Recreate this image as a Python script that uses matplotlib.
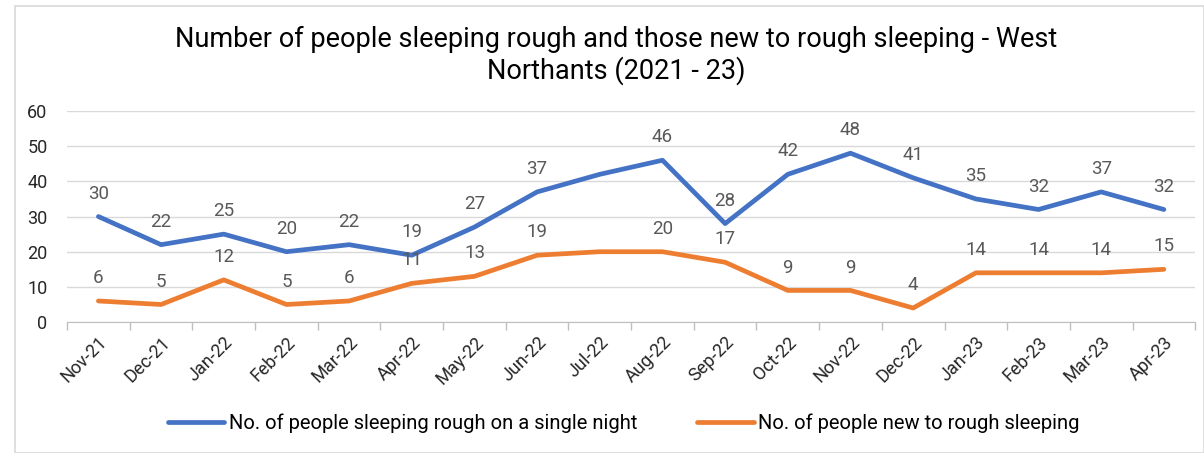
import matplotlib
matplotlib.use("Agg")
import matplotlib.pyplot as plt
from matplotlib.patches import Rectangle
import numpy as np

months = ["Nov-21", "Dec-21", "Jan-22", "Feb-22", "Mar-22", "Apr-22", "May-22",
          "Jun-22", "Jul-22", "Aug-22", "Sep-22", "Oct-22", "Nov-22", "Dec-22",
          "Jan-23", "Feb-23", "Mar-23", "Apr-23"]
rough_single_night = [30, 22, 25, 20, 22, 19, 27, 37, 42, 46, 28, 42, 48, 41, 35, 32, 37, 32]
new_to_rough = [6, 5, 12, 5, 6, 11, 13, 19, 20, 20, 17, 9, 9, 4, 14, 14, 14, 15]
unlabelled = {"Jul-22"}

plt.rcParams['font.family'] = ['Roboto', 'DejaVu Sans']

fig = plt.figure(figsize=(12.04, 4.53), dpi=100)
fig.patches.append(Rectangle((15 / 1204, 0), 1 - 15 / 1204, 1 - 6 / 453,
                             transform=fig.transFigure, fill=False,
                             edgecolor="#D9D9D9", linewidth=1.2))

ax = fig.add_axes([0.0557, 0.289, 0.937, 0.466])
x = np.arange(len(months))
blue, orange = "#4472C4", "#ED7D31"
ax.plot(x, rough_single_night, color=blue, linewidth=3.4,
        solid_capstyle="round", solid_joinstyle="round",
        label="No. of people sleeping rough on a single night")
ax.plot(x, new_to_rough, color=orange, linewidth=3.4,
        solid_capstyle="round", solid_joinstyle="round",
        label="No. of people new to rough sleeping")

for xi, m, a, b in zip(x, months, rough_single_night, new_to_rough):
    if m in unlabelled:
        continue
    ax.annotate(str(a), (xi, a), xytext=(0, 10), textcoords="offset points",
                ha="center", va="bottom", fontsize=13.5, color="#595959")
    ax.annotate(str(b), (xi, b), xytext=(0, 10), textcoords="offset points",
                ha="center", va="bottom", fontsize=13.5, color="#595959")

ax.set_xlim(-0.5, len(months) - 0.5)
ax.set_ylim(0, 60)
ax.set_yticks(range(0, 61, 10))
ax.set_xticks(x)
ax.set_xticklabels(months, rotation=45, ha="right", rotation_mode="anchor",
                   fontsize=13, color="#262626")
ax.tick_params(axis="x", which="major", length=0, pad=8)
ax.set_xticks(np.arange(-0.5, len(months), 1), minor=True)
ax.tick_params(axis="x", which="minor", length=6, color="#BFBFBF", width=1)
ax.tick_params(axis="y", length=0, labelsize=13, labelcolor="#262626", pad=14)
ax.grid(axis="y", color="#D9D9D9", linewidth=1)
ax.set_axisbelow(True)
for s in ["top", "right", "left"]:
    ax.spines[s].set_visible(False)
ax.spines["bottom"].set_color("#BFBFBF")

fig.text(0.512, 0.913, "Number of people sleeping rough and those new to rough sleeping - West",
         ha="center", va="center", fontsize=19.5, color="#000000")
fig.text(0.512, 0.843, "Northants (2021 - 23)",
         ha="center", va="center", fontsize=19.5, color="#000000")

fig.legend(loc="center", bbox_to_anchor=(0.518, 0.065), ncol=2, frameon=False,
           fontsize=14.5, handlelength=2.8, handletextpad=0.2, columnspacing=3.0)

fig.savefig("out.png", dpi=100)
